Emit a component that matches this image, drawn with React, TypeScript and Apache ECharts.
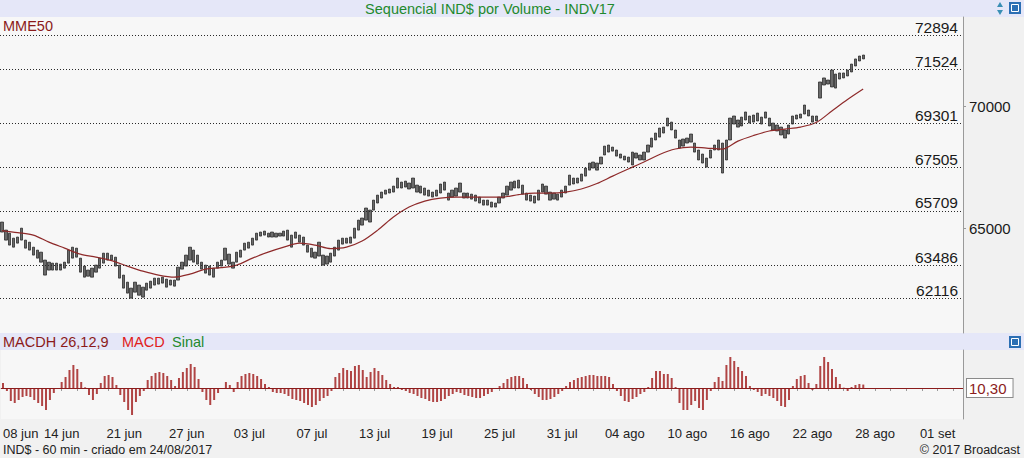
import React, { useEffect, useRef } from 'react';
import * as echarts from 'echarts';

const FONT = '"Liberation Sans", Arial, Helvetica, sans-serif';
const TITLE = 'Sequencial IND$ por Volume - INDV17';

// category slots (4 slots per trading day) over the visible window
const SLOTS = 246;
const dayLabels = ['08 jun', '14 jun', '21 jun', '27 jun', '03 jul', '07 jul', '13 jul', '19 jul', '25 jul', '31 jul', '04 ago', '10 ago', '16 ago', '22 ago', '28 ago', '01 set'];

// price bars (high / low per slot)
const barHigh = [
  65250, 64920, 64795, 64590, 64635, 65000, 64510, 64425, 64220, 64100,
  64015, 63690, 63605, 63565, 63565, 63525, 63605, 64100, 64220, 64180,
  63770, 63445, 63280, 63360, 63485, 63770, 63975, 63975, 63895, 63810,
  63485, 63075, 62785, 62540, 62785, 62665, 62580, 62745, 62825, 62950,
  62950, 62990, 62910, 62870, 62870, 63400, 63605, 63895, 64220, 64100,
  63895, 63605, 63485, 63445, 63360, 63605, 63690, 64180, 63935, 63605,
  64015, 64100, 64385, 64425, 64590, 64795, 64840, 64880, 64795, 64840,
  64795, 64795, 64880, 64920, 64715, 64840, 64715, 64635, 64305, 64180,
  64015, 64425, 63895, 63855, 63975, 64220, 64510, 64590, 64590, 64635,
  65000, 65330, 65415, 65825, 65740, 66150, 66355, 66480, 66560, 66605,
  66725, 67055, 66890, 66930, 66850, 67055, 66765, 66725, 66645, 66560,
  66480, 66560, 66810, 66890, 66440, 66560, 66645, 66850, 66440, 66440,
  66395, 66355, 66275, 66150, 66150, 66070, 66030, 66275, 66440, 66725,
  66890, 66930, 66970, 66765, 66440, 66355, 66315, 66560, 66810, 66725,
  66480, 66440, 66395, 66560, 66725, 67175, 67055, 67055, 67220, 67465,
  67670, 67710, 67670, 67915, 68365, 68410, 68325, 68205, 68040, 67955,
  67915, 68120, 68080, 68000, 68120, 68410, 68695, 68900, 69105, 69145,
  69515, 69350, 69025, 68615, 68655, 68695, 68860, 68490, 68205, 68040,
  67875, 68205, 68410, 68615, 68490, 68615, 69515, 69600, 69435, 69555,
  69765, 69600, 69640, 69720, 69555, 69765, 69515, 69310, 69230, 69145,
  69025, 69230, 69600, 69640, 69680, 70050, 69845, 69600, 69600, 70995,
  71160, 71075, 71485, 71320, 71365, 71365, 71485, 71730, 71940, 72060,
  72100,
];
const barLow = [
  64840, 64510, 64305, 64220, 64385, 64510, 64180, 64100, 63895, 63770,
  63605, 63075, 63280, 63280, 63280, 63280, 63360, 63565, 63770, 63810,
  63195, 62990, 63030, 62990, 63195, 63360, 63565, 63690, 63690, 63445,
  62950, 62540, 62335, 62130, 62375, 62250, 62170, 62455, 62540, 62665,
  62705, 62745, 62580, 62665, 62620, 62870, 63320, 63445, 63690, 63605,
  63525, 63320, 63155, 63075, 62990, 63360, 63445, 63690, 63525, 63360,
  63605, 63810, 64100, 64180, 64305, 64510, 64675, 64715, 64635, 64635,
  64635, 64675, 64675, 64510, 64220, 64590, 64425, 64305, 64015, 63810,
  63770, 63855, 63485, 63525, 63605, 63855, 64100, 64345, 64385, 64385,
  64590, 64920, 65125, 65330, 65250, 65740, 66030, 66235, 66395, 66440,
  66480, 66645, 66645, 66685, 66605, 66645, 66480, 66440, 66355, 66315,
  66275, 66315, 66440, 66560, 66150, 66275, 66315, 66480, 66235, 66235,
  66190, 66110, 66030, 65945, 65945, 65865, 65865, 66030, 66235, 66355,
  66560, 66645, 66645, 66395, 66150, 66110, 66030, 66150, 66480, 66395,
  66150, 66190, 66150, 66275, 66440, 66765, 66810, 66850, 66930, 67135,
  67380, 67465, 67380, 67630, 68000, 68120, 68160, 67955, 67875, 67795,
  67710, 67590, 67875, 67795, 67795, 68120, 68325, 68615, 68735, 68900,
  69190, 69025, 68695, 68285, 68365, 68490, 68530, 68120, 67795, 67670,
  67505, 67875, 68205, 68205, 67260, 67795, 68615, 69270, 69145, 69190,
  69435, 69310, 69350, 69395, 69270, 69515, 69190, 69025, 68985, 68820,
  68695, 68860, 69270, 69475, 69515, 69680, 69600, 69350, 69395, 70335,
  70870, 70910, 70790, 70745, 71115, 71160, 71240, 71405, 71650, 71855,
  71940,
];

// MME50, one value every 4 slots (one per trading day)
const mme50 = [
  64900, 64815, 64715, 64425, 64180, 63935, 63810, 63670, 63445, 63235,
  63075, 62990, 63115, 63320, 63380, 63485, 63770, 64015, 64220, 64385,
  64305, 64160, 64220, 64470, 64920, 65455, 65865, 66110, 66235, 66275,
  66275, 66275, 66275, 66375, 66440, 66440, 66480, 66605, 66830, 67135,
  67425, 67710, 68020, 68245, 68325, 68285, 68245, 68570, 68800, 68985,
  69065, 69145, 69330, 69805, 70275, 70705,
];

// MACD histogram per slot
const macdh = [
  15, -9, -39, -45, -36, -27, -24, -27, -36, -45,
  -54, -66, -36, -15, -3, 18, 33, 54, 69, 57,
  18, 2, -21, -36, -18, 15, 36, 39, 33, 9,
  -21, -42, -66, -81, -42, -24, -9, 24, 36, 45,
  48, 45, 36, 24, 6, 30, 48, 60, 72, 63,
  27, -12, -36, -51, -36, -15, -3, 18, 9, -12,
  18, 36, 42, 45, 42, 36, 27, 12, 3, -12,
  -15, -15, -18, -24, -33, -36, -39, -45, -51, -57,
  -51, -39, -30, -24, -9, 33, 45, 60, 54, 51,
  66, 69, 54, 33, 48, 60, 51, 39, 24, 12,
  3, 3, -6, -9, -15, -18, -24, -30, -33, -39,
  -42, -42, -39, -33, -24, -18, -12, -15, -21, -24,
  -27, -30, -30, -24, -18, -12, -3, 6, 15, 27,
  33, 36, 36, 30, 12, -6, -18, -27, -36, -36,
  -33, -27, -18, -9, 6, 18, 24, 30, 33, 36,
  39, 39, 36, 36, 36, 33, 12, -9, -24, -39,
  -42, -33, -27, -18, -12, 3, 30, 51, 51, 42,
  42, 30, 3, -45, -66, -66, -51, -39, -60, -66,
  -36, -9, 18, 33, 21, 69, 93, 81, 63, 51,
  36, 6, -6, -12, -24, -18, -24, -30, -39, -54,
  -57, -36, 6, 27, 36, 39, 15, -6, 12, 66,
  93, 78, 57, 33, 12, 1, -9, 3, 9, 12,
  10.3,
];

const levels = [72894, 71524, 69301, 67505, 65709, 63486, 62116];
const priceAxisValues = [65000, 70000];
const lastPrice = 72070;
const lastMacd = 10.3;

export default function App() {
  const ref = useRef<HTMLDivElement>(null);

  useEffect(() => {
    if (!ref.current) return;
    const chart = echarts.init(ref.current, undefined, { renderer: 'svg' });

    const categories = Array.from({ length: SLOTS }, (_, i) => 's' + i);
    const labelAt: Record<number, string> = {};
    dayLabels.forEach((lab, k) => {
      labelAt[k === 0 ? 0 : k * 16 - 1] = lab;
    });

    const candles = barLow.map((lo, i) => [lo, barHigh[i], lo, barHigh[i]]);
    const mmeData = mme50.map((v, k) => [k * 4, v]);

    const levelLines = levels.map((v) => ({
      yAxis: v,
      lineStyle: { type: [1, 2], color: '#2a2a2a', width: 1 },
      label: {
        show: true,
        position: 'insideEndTop',
        formatter: () => String(v),
        color: '#1a1a1a',
        fontSize: 15.5,
        fontFamily: FONT,
        distance: [5, 0],
      },
    }));

    const option: any = {
      animation: false,
      backgroundColor: '#f1f1f1',
      textStyle: { fontFamily: FONT },
      grid: [
        { left: 0, right: 61, top: 17, height: 316, show: true, backgroundColor: '#f7f7f7', borderWidth: 0 },
        { left: 0, right: 61, top: 350, height: 69, show: true, backgroundColor: '#f7f7f7', borderWidth: 0 },
      ],
      xAxis: [
        {
          type: 'category', gridIndex: 0, data: categories, boundaryGap: true,
          axisLine: { show: false }, axisTick: { show: false }, axisLabel: { show: false }, splitLine: { show: false },
        },
        {
          type: 'category', gridIndex: 1, data: categories, boundaryGap: true,
          axisLine: { show: true, lineStyle: { color: '#9a9a9a' } },
          axisTick: { show: true, interval: (i: number) => i % 4 === 3, alignWithLabel: true, length: 3, lineStyle: { color: '#9a9a9a' } },
          axisLabel: {
            show: true, interval: 0, color: '#222', fontSize: 13, fontFamily: FONT, margin: 8,
            alignMinLabel: 'left',
            formatter: (_v: string, idx: number) => labelAt[idx] || '',
          },
          splitLine: { show: false },
        },
      ],
      yAxis: [
        {
          type: 'value', gridIndex: 0, position: 'right', min: 60700, max: 73660, scale: true,
          axisLine: { show: true, lineStyle: { color: '#9a9a9a' } },
          axisTick: { show: true, customValues: priceAxisValues, length: 3, lineStyle: { color: '#9a9a9a' } },
          axisLabel: { show: true, customValues: priceAxisValues, formatter: (v: number) => String(v), color: '#1a1a1a', fontSize: 15, fontFamily: FONT, margin: 6 },
          splitLine: { show: false },
        },
        {
          type: 'value', gridIndex: 1, position: 'right', min: -93, max: 114,
          axisLine: { show: true, lineStyle: { color: '#9a9a9a' } },
          axisTick: { show: false }, axisLabel: { show: false }, splitLine: { show: false },
        },
      ],
      series: [
        {
          type: 'candlestick', xAxisIndex: 0, yAxisIndex: 0, data: candles, barWidth: 2.8,
          itemStyle: { color: '#6b6b6b', color0: '#6b6b6b', borderColor: '#1c1c1c', borderColor0: '#1c1c1c', borderWidth: 0.7 },
          markLine: {
            silent: true, symbol: ['none', 'none'], animation: false,
            data: [
              ...levelLines,
              {
                yAxis: lastPrice,
                lineStyle: { opacity: 0, width: 0 },
                label: {
                  show: true, position: 'end', formatter: () => String(lastPrice), distance: 4,
                  color: '#111', fontSize: 15, fontFamily: FONT,
                  backgroundColor: '#ffffff', borderColor: '#8a8a8a', borderWidth: 1, padding: [2, 9, 1, 2],
                },
              },
            ],
          },
        },
        {
          type: 'line', xAxisIndex: 0, yAxisIndex: 0, data: mmeData, smooth: 0.3, symbol: 'none',
          lineStyle: { color: '#8e2a2a', width: 1.2 }, z: 3,
        },
        {
          type: 'bar', xAxisIndex: 1, yAxisIndex: 1, data: macdh, barWidth: 2,
          itemStyle: { color: '#b04444' },
          markLine: {
            silent: true, symbol: ['none', 'none'], animation: false,
            data: [
              {
                yAxis: 0,
                lineStyle: { type: 'solid', color: '#8b1c1c', width: 1.2 },
                label: {
                  show: true, position: 'end', distance: 4,
                  formatter: () => lastMacd.toFixed(2).replace('.', ','),
                  color: '#8b1c1c', fontSize: 15, fontFamily: FONT,
                  backgroundColor: '#ffffff', borderColor: '#8a8a8a', borderWidth: 1, padding: [2, 6, 1, 2],
                },
              },
            ],
          },
        },
      ],
      graphic: [
        { type: 'rect', silent: true, shape: { x: 0, y: 0, width: 1024, height: 17 }, style: { fill: '#e5e7f8' } },
        { type: 'text', silent: true, x: 490, y: 9, style: { text: TITLE, fill: '#1f8a2e', fontSize: 14.5, fontFamily: FONT, align: 'center', verticalAlign: 'middle' } },
        { type: 'polygon', silent: true, shape: { points: [[997, 7], [1003, 7], [1000, 2]] }, style: { fill: '#3a8fb5' } },
        { type: 'polygon', silent: true, shape: { points: [[997, 10], [1003, 10], [1000, 15]] }, style: { fill: '#3a8fb5' } },
        { type: 'rect', silent: true, shape: { x: 1009, y: 2, width: 12, height: 12 }, style: { fill: '#2c6fb4' } },
        { type: 'rect', silent: true, shape: { x: 1011.5, y: 4.5, width: 7, height: 7 }, style: { fill: 'none', stroke: '#ffffff', lineWidth: 1 } },
        { type: 'text', silent: true, z: 100, x: 3, y: 26, style: { text: 'MME50', fill: '#8b1a1a', fontSize: 14.5, fontFamily: FONT, verticalAlign: 'middle' } },
        { type: 'rect', silent: true, shape: { x: 0, y: 333, width: 1024, height: 17 }, style: { fill: '#e5e7f8' } },
        { type: 'text', silent: true, x: 3, y: 342, style: { text: 'MACDH 26,12,9', fill: '#8b1a1a', fontSize: 14.5, fontFamily: FONT, verticalAlign: 'middle' } },
        { type: 'text', silent: true, x: 122, y: 342, style: { text: 'MACD', fill: '#e0201b', fontSize: 14.5, fontFamily: FONT, verticalAlign: 'middle' } },
        { type: 'text', silent: true, x: 172, y: 342, style: { text: 'Sinal', fill: '#238a2e', fontSize: 14.5, fontFamily: FONT, verticalAlign: 'middle' } },
        { type: 'rect', silent: true, shape: { x: 1009, y: 336, width: 12, height: 12 }, style: { fill: '#2c6fb4' } },
        { type: 'rect', silent: true, shape: { x: 1011.5, y: 338.5, width: 7, height: 7 }, style: { fill: 'none', stroke: '#ffffff', lineWidth: 1 } },
        { type: 'text', silent: true, x: 3, y: 450, style: { text: 'IND$ - 60 min - criado em 24/08/2017', fill: '#222', fontSize: 12.5, fontFamily: FONT, verticalAlign: 'middle' } },
        { type: 'text', silent: true, x: 1020, y: 450, style: { text: '© 2017 Broadcast', fill: '#222', fontSize: 12.5, fontFamily: FONT, align: 'right', verticalAlign: 'middle' } },
      ],
    };

    chart.setOption(option);
    return () => chart.dispose();
  }, []);

  return <div ref={ref} style={{ position: 'absolute', left: 0, top: 0, width: 1024, height: 458 }} />;
}
